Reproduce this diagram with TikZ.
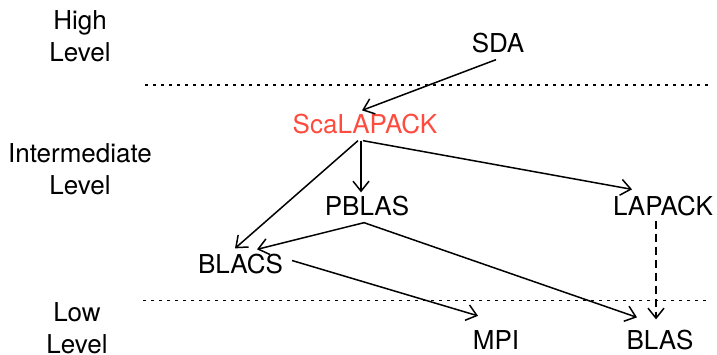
\documentclass[tikz,border=0pt]{standalone}
\usepackage{fontspec}
\setmainfont{TeX Gyre Heros}
\usetikzlibrary{calc, arrows.meta}
\definecolor{scared}{HTML}{FF4B3E}

\begin{document}
\begin{tikzpicture}[x=1pt, y=-1pt,
    lib/.style={anchor=base, inner sep=0pt, font=\fontsize{26}{32}\selectfont},
    lvl/.style={anchor=north, inner sep=0pt, align=center, font=\fontsize{26}{32}\selectfont},
    dep/.style={line width=1.5pt, -{Straight Barb[length=10pt, width=16pt]}},
    sep/.style={line width=1.4pt, dash pattern=on 2.5pt off 5.5pt}]

\useasboundingbox (0,0) rectangle (717,355);

% --- LEVEL LABELS ---
\node[lvl] (high) at (80,10) {High\\Level};
\node[lvl] (mid) at (80,143) {Intermediate\\Level};
\node[lvl] (low) at (77,302) {Low\\Level};

% --- LEVEL SEPARATORS ---
\draw[sep] (145,85) -- (708,85);
\draw[sep] (143,300.5) -- (708,300.5);

% --- LIBRARIES ---
\node[lib] (sda) at (498,53) {SDA};
\node[lib, text=scared] (scala) at (365,134) {ScaLAPACK};
\node[lib] (pblas) at (367,216) {PBLAS};
\node[lib] (lapack) at (663,216) {LAPACK};
\node[lib] (blacs) at (240.5,273) {BLACS};
\node[lib] (mpi) at (496,349) {MPI};
\node[lib] (blas) at (660,349) {BLAS};

% --- DEPENDENCIES ---
\draw[dep] ($(sda.south)+(-2,6)$) -- ($(scala.north)+(-3,-4)$);
\draw[dep] ($(scala.south)+(-7,6)$) -- ($(blacs.north)+(-5.5,-5)$);
\draw[dep] ($(scala.south)+(-4,6)$) -- ($(pblas.north)+(-6,-4)$);
\draw[dep] ($(scala.south)+(-2,6)$) -- ($(lapack.north)+(-31,-7)$);
\draw[dep] ($(pblas.south)+(-3,6)$) -- ($(blacs.north)+(16.5,-4)$);
\draw[dep] ($(pblas.south)+(-3,6)$) -- ($(blas.north)+(-23,-12)$);
\draw[dep] ($(blacs.east)+(9,-3)$) -- ($(mpi.north)+(-18,-14)$);
\draw[dep, dash pattern=on 8pt off 5pt] ($(lapack.south)+(-7,4)$) -- ($(blas.north)+(-4,-10)$);

\end{tikzpicture}
\end{document}
